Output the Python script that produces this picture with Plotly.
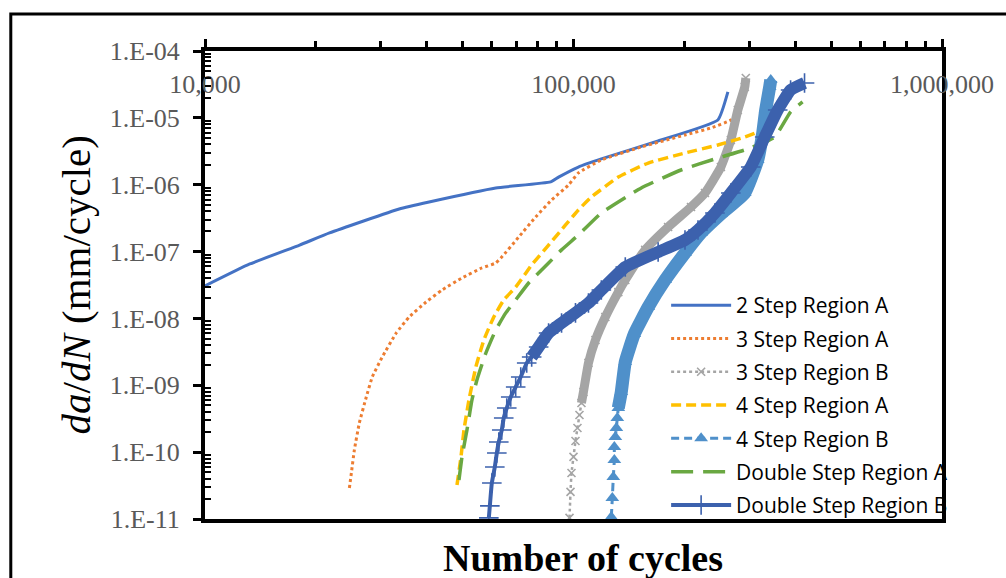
import plotly.graph_objects as go

# ---------------- data ----------------
s2A_x = [10000, 13230, 18060, 21770, 33650, 40560, 61510, 86650, 91100, 103100, 119000, 169700, 246500, 262400]
s2A_y = [3.06e-8, 6.52e-8, 1.25e-7, 1.90e-7, 4.34e-7, 5.52e-7, 8.94e-7, 1.10e-6, 1.30e-6, 1.84e-6, 2.43e-6, 4.51e-6, 9.29e-6, 2.44e-5]

s3A_x = [24650, 24960, 25430, 26230, 27400, 28440, 30270, 33030, 35810, 39810, 43980, 49820, 56400, 61510, 63880,
         71020, 78930, 87200, 96940, 103100, 119000, 152700, 200700, 236000, 267300, 279200, 288000]
s3A_y = [2.91e-11, 4.88e-11, 1.08e-10, 2.73e-10, 6.68e-10, 1.33e-9, 2.65e-9, 6.05e-9, 1.05e-8, 1.76e-8, 2.66e-8,
         4.03e-8, 5.68e-8, 6.75e-8, 8.29e-8, 1.65e-7, 3.29e-7, 5.90e-7, 9.90e-7, 1.50e-6, 2.34e-6, 3.67e-6,
         5.54e-6, 7.05e-6, 9.29e-6, 1.31e-5, 2.20e-5]

s3B_x = [97540, 98150, 98760, 100000, 101250, 102500, 103800, 105100, 106400, 109800, 114700, 122000, 132300,
         138200, 156500, 180600, 208400, 227400, 251200, 267300, 279200, 291600, 293500]
s3B_y = [1.04e-11, 2.54e-11, 4.88e-11, 8.48e-11, 1.47e-10, 2.30e-10, 3.60e-10, 5.43e-10, 7.94e-10, 2.16e-9,
         4.76e-9, 1.05e-8, 2.48e-8, 3.76e-8, 1.06e-7, 2.33e-7, 4.65e-7, 7.52e-7, 1.84e-6, 4.67e-6, 1.31e-5,
         2.90e-5, 3.95e-5]

s4A_x = [48290, 49510, 50440, 52030, 54340, 57120, 60770, 64670, 69680, 77000, 85580, 95150, 103100, 111850,
         132300, 159500, 200700, 246500, 291600, 316200]
s4A_y = [3.23e-11, 8.48e-11, 2.14e-10, 6.02e-10, 1.88e-9, 4.76e-9, 1.05e-8, 1.89e-8, 2.95e-8, 6.30e-8, 1.25e-7,
         2.50e-7, 4.19e-7, 6.55e-7, 1.30e-6, 2.11e-6, 2.98e-6, 3.93e-6, 5.17e-6, 6.15e-6]

s4B_x = [126650, 127450, 128250, 129060, 129060, 129870, 130700, 131500, 132300, 134800, 138200, 146200, 159500,
         177300, 200700, 221800, 251200, 291600, 316200, 326200, 332300, 340700, 343000]
s4B_y = [1.07e-11, 2.06e-11, 4.25e-11, 7.64e-11, 1.19e-10, 1.69e-10, 2.30e-10, 3.24e-10, 4.57e-10, 7.94e-10,
         2.23e-9, 5.85e-9, 1.48e-8, 3.76e-8, 9.53e-8, 1.90e-7, 3.65e-7, 7.52e-7, 2.34e-6, 5.94e-6, 1.31e-5,
         2.90e-5, 3.68e-5]

sDA_x = [48890, 49820, 51390, 53020, 54690, 57840, 61510, 65500, 69680, 75560, 85580, 92810, 103100, 119000,
         152700, 195800, 246500, 291600, 351500, 388300, 418400]
sDA_y = [3.84e-11, 8.48e-11, 2.14e-10, 6.02e-10, 1.20e-9, 3.04e-9, 6.71e-9, 1.21e-8, 1.89e-8, 3.39e-8, 6.75e-8,
         1.06e-7, 1.77e-7, 3.78e-7, 8.94e-7, 1.66e-6, 2.51e-6, 3.31e-6, 5.17e-6, 1.23e-5, 1.73e-5]

sDB_x = [58920, 59290, 60030, 61160, 61930, 62700, 63880, 64670, 65900, 67560, 69680, 71920, 74650, 77000,
         80430, 85580, 92810, 101250, 109800, 119000, 138200, 169700, 200700, 217700, 242000, 267300, 302700,
         330300, 358200, 388300, 423600]
sDB_y = [1.04e-11, 1.57e-11, 3.46e-11, 6.00e-11, 9.71e-11, 1.42e-10, 2.14e-10, 3.24e-10, 4.57e-10, 6.68e-10,
         9.44e-10, 1.33e-9, 2.16e-9, 2.65e-9, 3.74e-9, 6.05e-9, 8.55e-9, 1.21e-8, 1.70e-8, 2.66e-8, 5.87e-8,
         9.86e-8, 1.49e-7, 2.10e-7, 3.78e-7, 7.52e-7, 1.84e-6, 5.17e-6, 1.31e-5, 2.61e-5, 3.32e-5]

series_names = ["2 Step Region A", "3 Step Region A", "3 Step Region B", "4 Step Region A",
                "4 Step Region B", "Double Step Region A", "Double Step Region B"]

x_ticks = [1e4, 1e5, 1e6]
x_tick_labels = ["10,000", "100,000", "1,000,000"]
x_minor = [m * d for d in (1e4, 1e5) for m in range(2, 10)]

y_ticks = [1e-11, 1e-10, 1e-9, 1e-8, 1e-7, 1e-6, 1e-5, 1e-4]
y_tick_labels = ["1.E-11", "1.E-10", "1.E-09", "1.E-08", "1.E-07", "1.E-06", "1.E-05", "1.E-04"]
y_minor = [m * 10.0 ** e for e in range(-11, -4) for m in range(2, 10)]

# ---------------- styling ----------------
W, H = 1006, 578
ML, MR, MT, MB = 205, 61, 51, 59
PW, PH = W - ML - MR, H - MT - MB


def px_x(p):
    return (p - ML) / PW


def px_y(p):
    return (H - MB - p) / PH


C_BLUE = "#4472C4"
C_ORANGE = "#ED7D31"
C_GRAY = "#A5A5A5"
C_GOLD = "#FFC000"
C_LBLUE = "#4F90CA"
C_GREEN = "#6AA842"
C_DBLUE = "#3C61AD"
SM = dict(shape="spline", smoothing=0.4)

fig = go.Figure()


def add(x, y, name, group, line, mode="lines", marker=None, band=None):
    fig.add_trace(go.Scatter(x=x, y=y, name=name, legendgroup=group, mode=mode,
                             line=dict(**line, **SM), marker=marker, hoverinfo="x+y+name"))
    if band is not None:
        k, col, w = band
        fig.add_trace(go.Scatter(x=x[k:], y=y[k:], mode="lines", legendgroup=group, showlegend=False,
                                 line=dict(color=col, width=w, **SM), hoverinfo="skip"))


add(s2A_x, s2A_y, series_names[0], "g1", dict(color=C_BLUE, width=3))
add(s3A_x, s3A_y, series_names[1], "g2", dict(color=C_ORANGE, width=3, dash="dot"))
add(s3B_x, s3B_y, series_names[2], "g3", dict(color=C_GRAY, width=2.5, dash="dot"), mode="lines+markers",
    marker=dict(symbol="x-thin", size=8, line=dict(color=C_GRAY, width=1.6), color=C_GRAY),
    band=(7, C_GRAY, 9))
add(s4A_x, s4A_y, series_names[3], "g4", dict(color=C_GOLD, width=3.5, dash="10px,5px"))
add(s4B_x, s4B_y, series_names[4], "g5", dict(color=C_LBLUE, width=3, dash="8px,5px"), mode="lines+markers",
    marker=dict(symbol="triangle-up", size=12, color=C_LBLUE),
    band=(8, C_LBLUE, 13))
add(sDA_x, sDA_y, series_names[5], "g6", dict(color=C_GREEN, width=3.5, dash="22px,10px"))
add(sDB_x, sDB_y, series_names[6], "g7", dict(color=C_DBLUE, width=4), mode="lines+markers",
    marker=dict(symbol="cross-thin", size=14, line=dict(color=C_DBLUE, width=1.6), color=C_DBLUE),
    band=(13, C_DBLUE, 12))

tick_font = dict(family="Liberation Serif", size=26, color="#595959")

fig.update_layout(
    width=W, height=H, autosize=False,
    margin=dict(l=ML, r=MR, t=MT, b=MB, pad=0),
    paper_bgcolor="white", plot_bgcolor="white",
    showlegend=True,
    xaxis=dict(type="log", range=[4, 6], side="top", anchor="y",
               showline=True, linecolor="black", linewidth=3.5, mirror=True,
               tickmode="array", tickvals=x_ticks, ticktext=x_tick_labels,
               ticks="outside", ticklen=8, tickwidth=3, tickcolor="black",
               ticklabelposition="inside", ticklabeloverflow="allow", ticklabelstandoff=26,
               tickfont=tick_font,
               minor=dict(tickmode="array", tickvals=x_minor, ticks="outside", ticklen=6,
                          tickwidth=2.5, tickcolor="black"),
               showgrid=False, zeroline=False),
    xaxis2=dict(type="log", range=[4, 6], overlaying="x", side="top", anchor="y",
                tickmode="array", tickvals=x_ticks, ticks="inside", ticklen=9, tickwidth=3,
                tickcolor="black", showticklabels=False, showline=False, showgrid=False, zeroline=False),
    yaxis=dict(type="log", range=[-11, -4], anchor="x",
               showline=True, linecolor="black", linewidth=4, mirror=True,
               tickmode="array", tickvals=y_ticks, ticktext=y_tick_labels,
               ticks="outside", ticklen=8, tickwidth=3, tickcolor="black",
               ticklabelstandoff=8, tickfont=tick_font,
               minor=dict(tickmode="array", tickvals=y_minor, ticks="inside", ticklen=6,
                          tickwidth=2, tickcolor="black"),
               showgrid=False, zeroline=False),
    yaxis2=dict(type="log", range=[-11, -4], overlaying="y", side="left", anchor="x",
                tickmode="array", tickvals=y_ticks, ticks="inside", ticklen=7, tickwidth=3,
                tickcolor="black", showticklabels=False, showline=False, showgrid=False, zeroline=False),
    legend=dict(x=px_x(668), y=px_y(285), xanchor="left", yanchor="top",
                bgcolor="rgba(0,0,0,0)", borderwidth=0,
                font=dict(family="Open Sans", size=21, color="black"),
                itemwidth=60, tracegroupgap=3, traceorder="grouped"),
    annotations=[
        dict(text="<b>Number of cycles</b>", xref="paper", yref="paper", x=px_x(585), y=px_y(558),
             xanchor="center", yanchor="middle", showarrow=False,
             font=dict(family="Liberation Serif", size=38, color="black")),
        dict(text="<i>da</i>/<i>dN</i> (mm/cycle)", xref="paper", yref="paper", x=px_x(75), y=px_y(285),
             xanchor="center", yanchor="middle", showarrow=False, textangle=-90,
             font=dict(family="Liberation Serif", size=41, color="black")),
    ],
    shapes=[
        dict(type="rect", xref="paper", yref="paper", x0=px_x(10), y0=px_y(620), x1=px_x(1040), y1=px_y(14),
             line=dict(color="black", width=3), fillcolor="rgba(0,0,0,0)", layer="below"),
    ],
)

fig.write_html("out.html", post_script="document.body.style.margin='0';",
               config={"displayModeBar": False})
